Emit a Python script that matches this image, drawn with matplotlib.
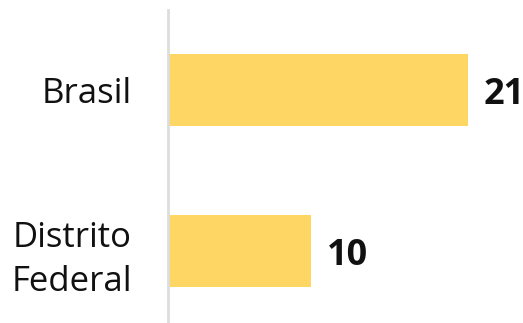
import matplotlib
matplotlib.use('Agg')
import matplotlib.pyplot as plt

regioes = ['Brasil', 'Distrito\nFederal']
valores = [21, 10]

plt.rcParams['font.family'] = ['Open Sans', 'DejaVu Sans']

fig = plt.figure(figsize=(5.23, 3.23), dpi=100)
ax = fig.add_axes([168/523, 0, 355/523, 313/323])

y = list(range(len(regioes)))
ax.barh(y, valores, height=72/161, color='#FDD663')

for yi, v in zip(y, valores):
    ax.annotate(str(v), (v, yi), xytext=(11.5, 0), textcoords='offset points',
                va='center_baseline', ha='left', fontsize=26, fontweight='bold',
                color='#111111')

ax.set_yticks(y)
ax.set_yticklabels(regioes, fontsize=25, color='#111111', ha='right',
                   multialignment='right', linespacing=1.4)
ax.tick_params(axis='y', length=0, pad=26)
ax.set_xticks([])
ax.set_xlim(0, 24.85)
ax.set_ylim(1.447, -0.497)

for s in ['top', 'right', 'bottom']:
    ax.spines[s].set_visible(False)
ax.spines['left'].set_color('#dddddd')
ax.spines['left'].set_linewidth(2)

fig.savefig('out.png', dpi=100)
